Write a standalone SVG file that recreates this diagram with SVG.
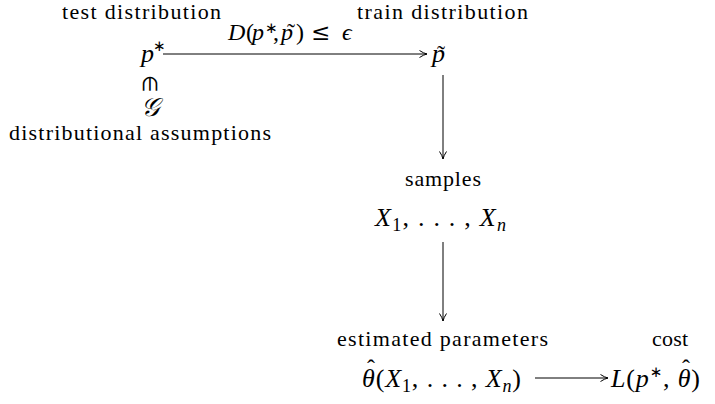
<svg xmlns="http://www.w3.org/2000/svg" width="715" height="404" viewBox="0 0 715 404">
<style>
text{font-family:"Liberation Serif",serif;fill:#000}
.t{font-size:22px}
.m{font-size:26px}
.i{font-style:italic}
.sup{font-size:15px;font-family:"DejaVu Sans",sans-serif;font-style:normal}
.sub{font-size:18px}
.acc{font-size:24px;font-style:normal}
.c{stroke:#000;stroke-width:1;fill:none}
</style>
<defs>
<marker id="ah" viewBox="0 0 10 10" refX="9" refY="5" markerWidth="10" markerHeight="10" markerUnits="userSpaceOnUse" orient="auto">
<path d="M1.5,1.5 Q5.5,4.2 9,5 Q5.5,5.8 1.5,8.5" fill="none" stroke="#000" stroke-width="1"/>
</marker>
</defs>
<rect width="715" height="404" fill="#fff"/>
<g id="connectors">
<line class="c" x1="163" y1="54" x2="427" y2="54" marker-end="url(#ah)"/>
<line class="c" x1="443" y1="75" x2="443" y2="159" marker-end="url(#ah)"/>
<line class="c" x1="443" y1="242" x2="443" y2="321" marker-end="url(#ah)"/>
<line class="c" x1="535" y1="378" x2="608" y2="378" marker-end="url(#ah)"/>
<g id="edge-label">
<text font-size="24" y="40"><tspan class="i" x="228">D</tspan><tspan x="246">(</tspan><tspan class="i" x="252">p</tspan><tspan class="sup" x="265" y="33">∗</tspan><tspan x="273" y="40">,</tspan><tspan class="i" x="281">p</tspan><tspan x="296">)</tspan><tspan x="311" font-family="DejaVu Serif" font-size="23">≤</tspan><tspan class="i" x="342">ϵ</tspan></text>
<text class="acc" x="291" y="40" font-size="20" text-anchor="middle">˜</text>
</g>
</g>
<g id="node-pstar">
<text class="t" x="62" y="19" textLength="159" lengthAdjust="spacing">test distribution</text>
<text class="m" y="62"><tspan class="i" x="141">p</tspan><tspan class="sup" x="153" y="51">∗</tspan></text>
<text x="0" y="0" font-family="DejaVu Sans" font-size="20" text-anchor="middle" transform="translate(150 83) rotate(90)" dy="7">∈</text>
<text class="m i" x="150" y="116" text-anchor="middle" font-family="DejaVu Serif" font-size="24">𝒢</text>
<text class="t" x="9" y="140" textLength="262" lengthAdjust="spacing">distributional assumptions</text>
</g>
<g id="node-ptilde">
<text class="t" x="357" y="19" textLength="171" lengthAdjust="spacing">train distribution</text>
<text class="m i" x="432" y="62">p</text>
<text class="acc" x="441" y="62" text-anchor="middle">˜</text>
</g>
<g id="node-samples">
<text class="t" x="405" y="186" textLength="76" lengthAdjust="spacing">samples</text>
<text class="m" x="375" y="226" textLength="131" lengthAdjust="spacing"><tspan class="i">X</tspan><tspan class="sub" dy="5">1</tspan><tspan dy="-5">, . . . , </tspan><tspan class="i">X</tspan><tspan class="i sub" dy="5">n</tspan></text>
</g>
<g id="node-theta">
<text class="t" x="337" y="346" textLength="211" lengthAdjust="spacing">estimated parameters</text>
<text class="m" x="362" y="387" textLength="159" lengthAdjust="spacing"><tspan class="i">θ</tspan>(<tspan class="i">X</tspan><tspan class="sub" dy="5">1</tspan><tspan dy="-5">, . . . , </tspan><tspan class="i">X</tspan><tspan class="i sub" dy="5">n</tspan><tspan dy="-5">)</tspan></text>
<text class="acc" x="371" y="376" text-anchor="middle">ˆ</text>
</g>
<g id="node-cost">
<text class="t" x="652" y="346" textLength="36" lengthAdjust="spacing">cost</text>
<text class="m" x="611" y="387" textLength="89" lengthAdjust="spacing"><tspan class="i">L</tspan>(<tspan class="i">p</tspan><tspan class="sup" dy="-10">∗</tspan><tspan dy="10">, </tspan><tspan class="i">θ</tspan>)</text>
<text class="acc" x="686" y="376" text-anchor="middle">ˆ</text>
</g>
</svg>
